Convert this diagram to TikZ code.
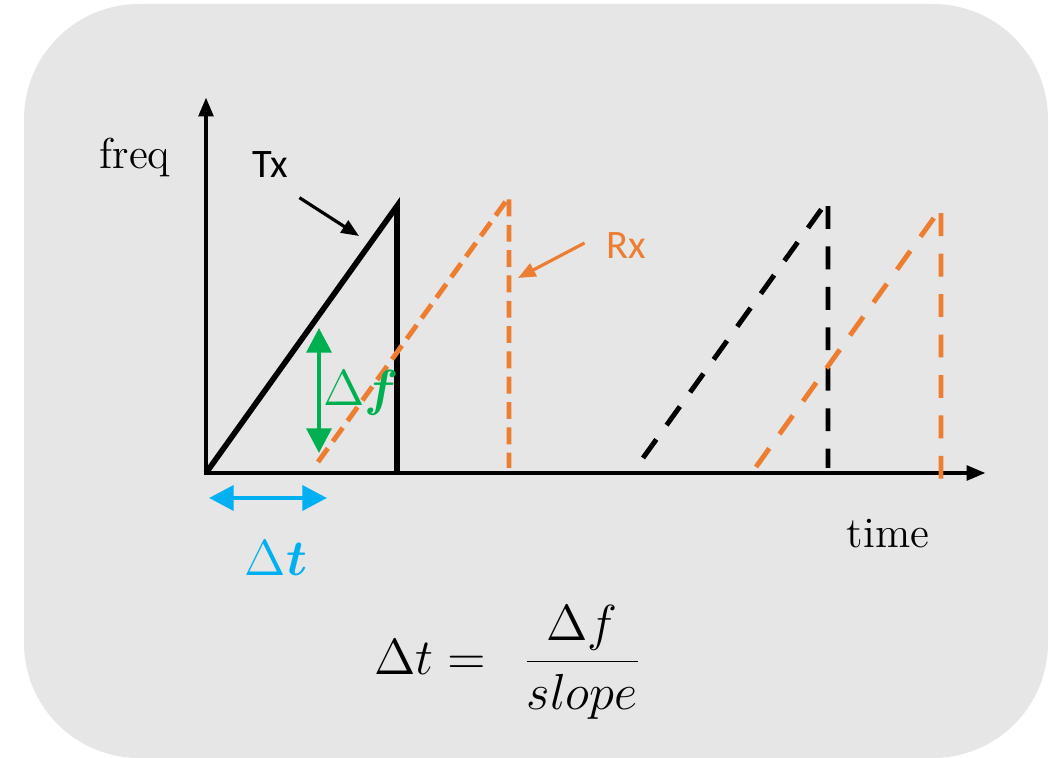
\documentclass[tikz,border=0pt]{standalone}
\usepackage{fontspec}
\usepackage{bm}
\newfontfamily\labelfont{Carlito}
\definecolor{chirpOrange}{RGB}{237,125,49}
\definecolor{chirpGreen}{RGB}{0,176,80}
\definecolor{chirpBlue}{RGB}{0,176,240}
\definecolor{chirpGray}{RGB}{230,230,230}
\usetikzlibrary{arrows.meta,positioning,calc}

\begin{document}
\begin{tikzpicture}[x=0.01cm, y=-0.01cm,
    axis/.style={{Triangle[length=5.5pt,width=4pt]}-{Triangle[length=5.5pt,width=4pt]},
                 line width=1.4pt},
    txline/.style={line width=1.6pt},
    rxdense/.style={chirpOrange, line width=1.4pt, dash pattern=on 4.8pt off 2.4pt},
    nextchirp/.style={line width=1.4pt, dash pattern=on 6.5pt off 5pt},
    pointer/.style={-{Triangle[length=5pt,width=4pt]}, line width=0.9pt},
    span/.style={{Triangle[length=7pt,width=7pt]}-{Triangle[length=7pt,width=7pt]},
                 line width=1.3pt},
    lbl/.style={font=\labelfont\fontsize{11.5}{13}\selectfont, inner sep=0pt},
    axislbl/.style={font=\fontsize{12.3}{14}\selectfont, inner sep=0pt},
    delta/.style={font=\fontsize{15}{18}\selectfont, inner sep=0pt}
  ]
  \useasboundingbox (0,0) rectangle (1051,758);
  % background panel
  \fill[chirpGray, rounded corners=1.15cm] (24,4) rectangle (1048,758);

  % axes
  \coordinate (o) at (206,473);
  \coordinate (ytop) at (206,97);
  \coordinate (xend) at (986,473);
  \draw[axis] (ytop) -- (o) -- (xend);
  \node[axislbl] (freq) at (135,157) {freq};
  \node[axislbl] (time) at (888,534) {time};

  % transmitted chirp
  \coordinate (txpeak) at (397,206);
  \coordinate (txend) at (397,473);
  \draw[txline] (o) -- (txpeak) -- (txend);

  % received (delayed) chirp
  \coordinate (rxstart) at (318,462);
  \coordinate (rxpeak) at (509,197);
  \coordinate (rxend) at (509,468);
  \draw[rxdense] (rxstart) -- (rxpeak) -- (rxend);

  % following chirps
  \draw[nextchirp] (643,458) -- (828,200) -- (828,468);
  \draw[nextchirp, chirpOrange] (756,467) -- (941,208) -- (941,482);

  % labels with pointers
  \node[lbl] (tx) at (270,165) {Tx};
  \node[lbl, text=chirpOrange] (rx) at (626,246) {Rx};
  \coordinate (txtip) at (359,236);
  \coordinate (rxtip) at (518,278);
  \draw[pointer] ($(tx.south east)+(11,19)$) -- (txtip);
  \draw[pointer, chirpOrange] ($(rx.west)+(-21,-3)$) -- (rxtip);

  % frequency offset
  \coordinate (dftop) at (319,328);
  \coordinate (dfbot) at (319,453);
  \draw[span, chirpGreen] (dftop) -- (dfbot);
  \node[delta, text=chirpGreen] (df) at (361,393) {$\Delta\bm{f}$};

  % time delay
  \coordinate (dtleft) at (209,498);
  \coordinate (dtright) at (327,498);
  \draw[span, chirpBlue] (dtleft) -- (dtright);
  \node[delta, text=chirpBlue] (dt) at (276,558) {$\Delta\bm{t}$};

  \node[font=\fontsize{15}{18}\selectfont] (eq) at (508,662)
    {$\Delta t =\;\, \displaystyle\frac{\Delta f}{slope}$};
\end{tikzpicture}
\end{document}
